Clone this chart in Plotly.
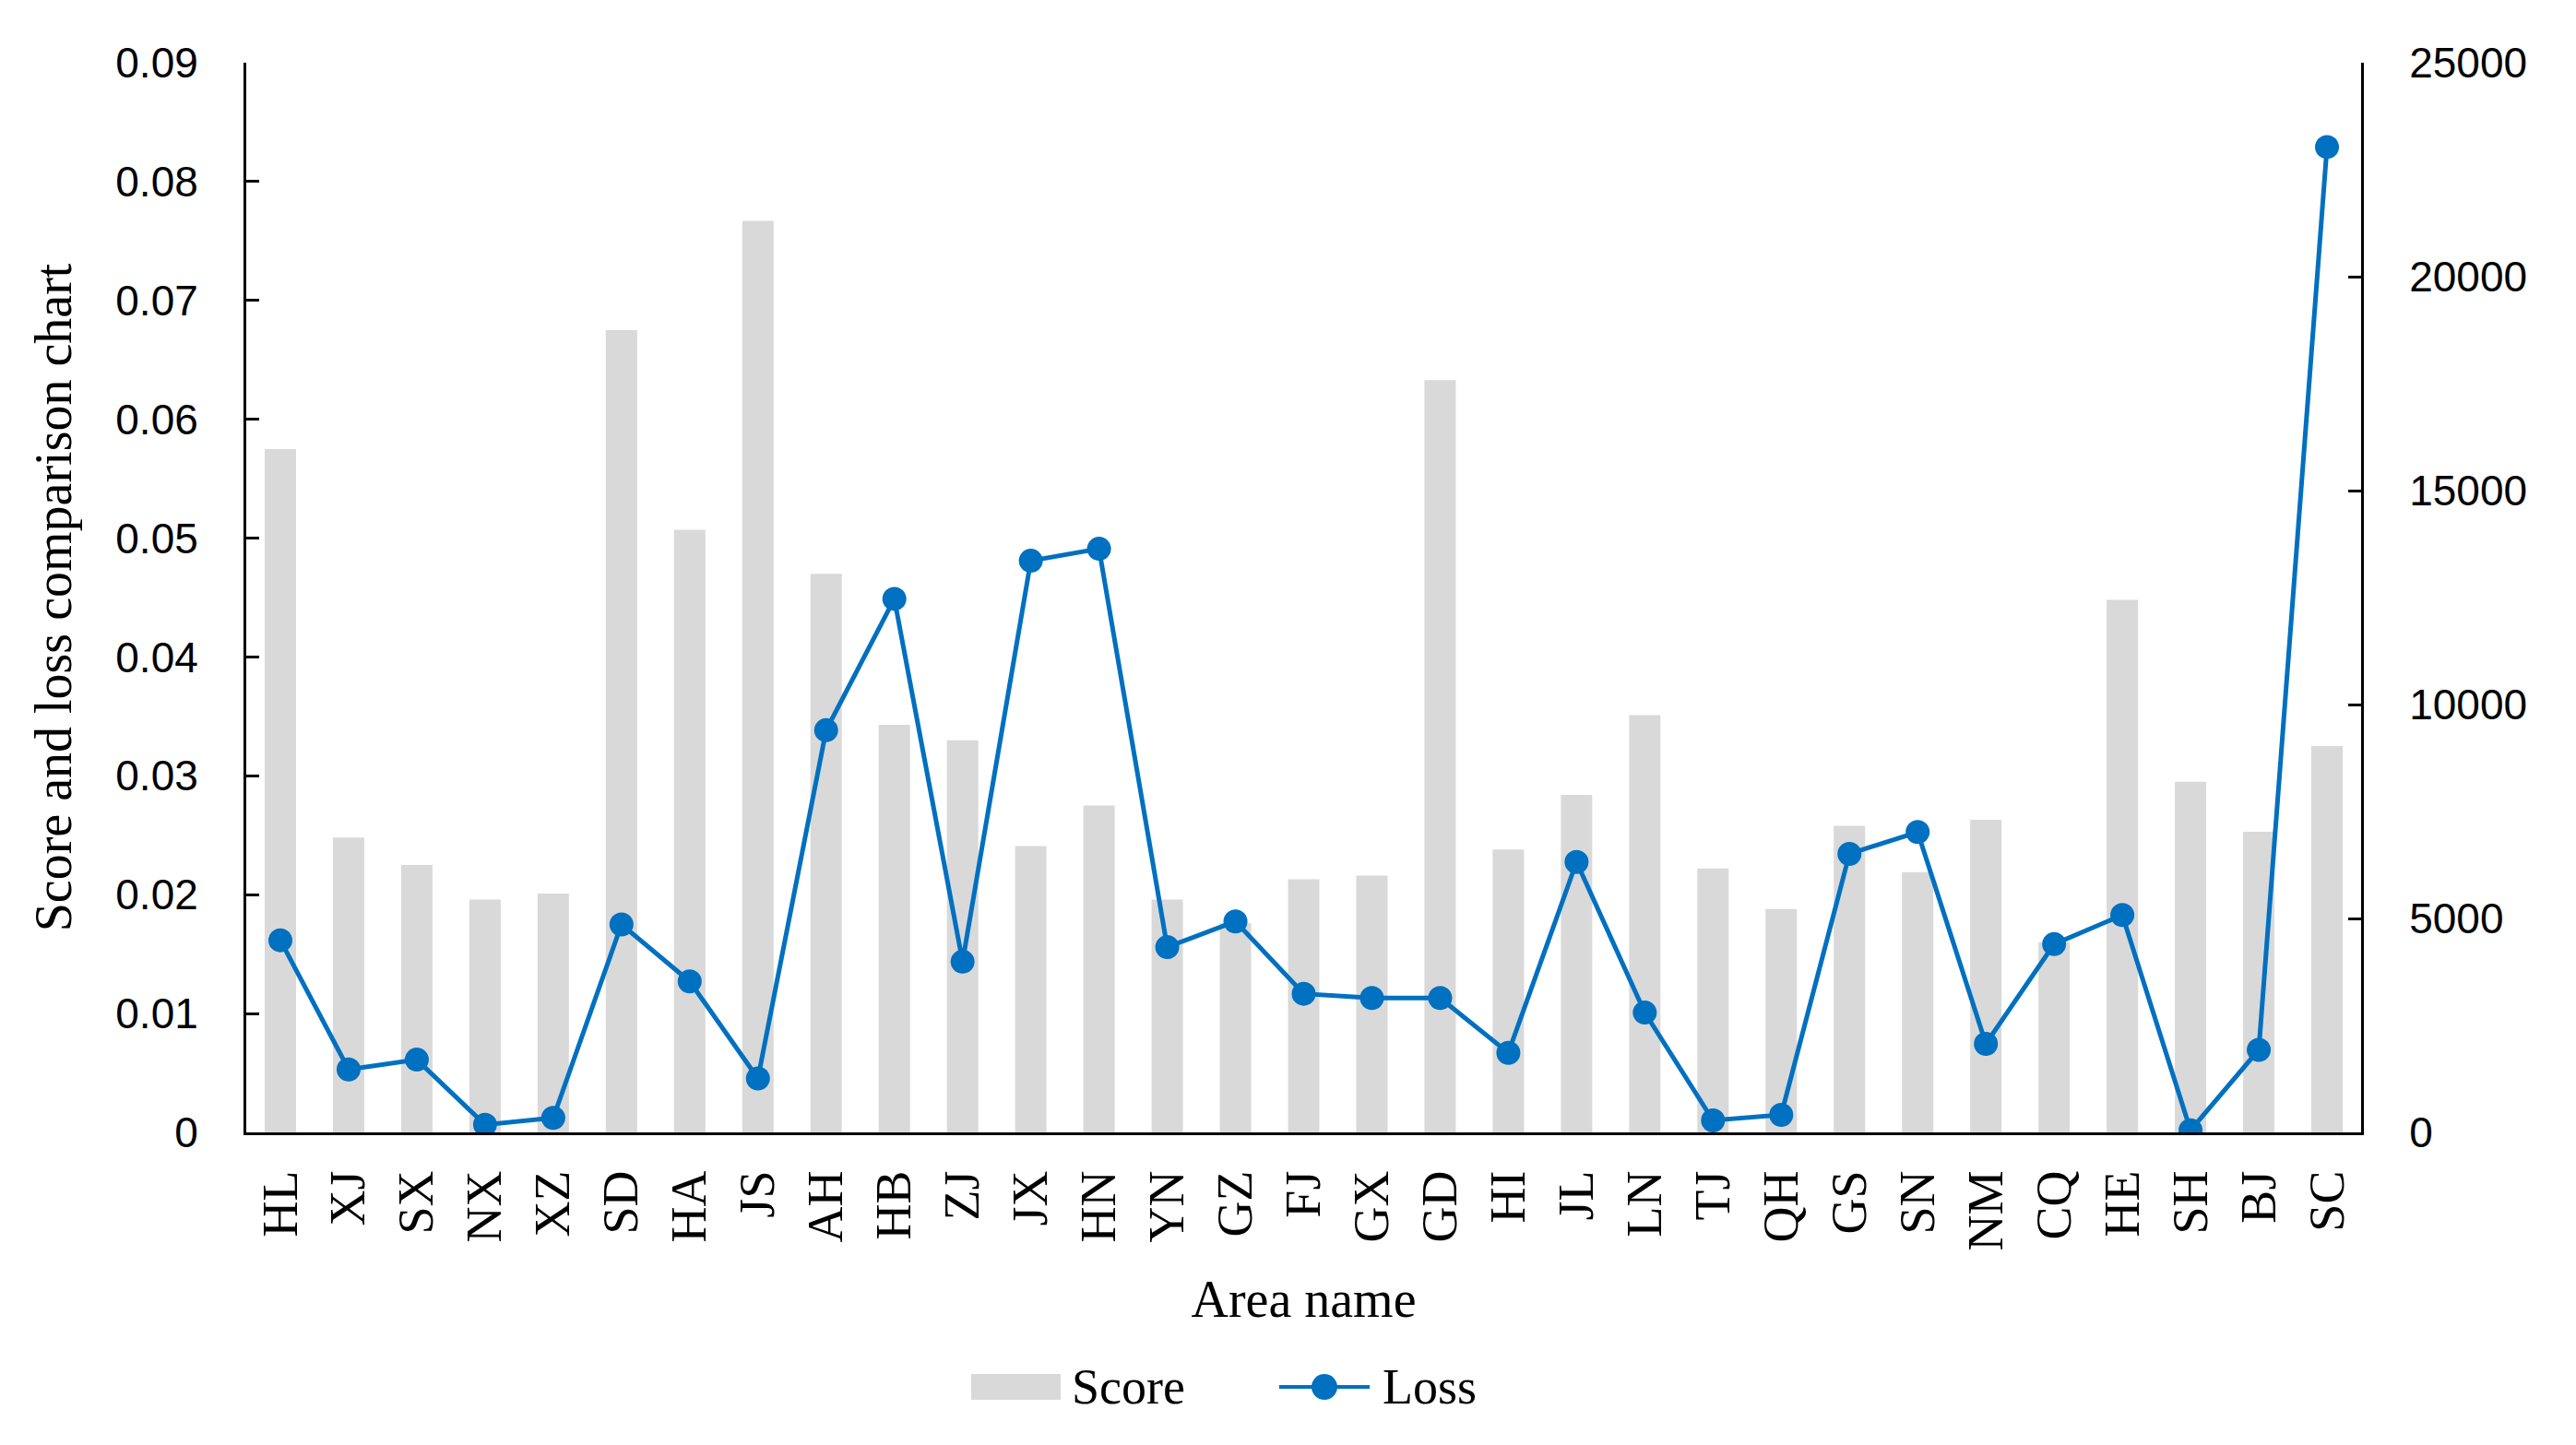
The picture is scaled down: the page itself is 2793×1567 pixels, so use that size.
import plotly.graph_objects as go

areas = ["HL", "XJ", "SX", "NX", "XZ", "SD", "HA", "JS", "AH", "HB", "ZJ", "JX",
         "HN", "YN", "GZ", "FJ", "GX", "GD", "HI", "JL", "LN", "TJ", "QH", "GS",
         "SN", "NM", "CQ", "HE", "SH", "BJ", "SC"]

score = [0.0575, 0.0248, 0.0225, 0.0196, 0.0201, 0.0675, 0.0507, 0.0767, 0.0470,
         0.0343, 0.0330, 0.0241, 0.0275, 0.0196, 0.0176, 0.0213, 0.0216, 0.0633,
         0.0238, 0.0284, 0.0351, 0.0222, 0.0188, 0.0258, 0.0219, 0.0263, 0.0160,
         0.0448, 0.0295, 0.0253, 0.0325]

loss = [4490, 1470, 1700, 180, 340, 4860, 3530, 1260, 9400, 12470, 3990, 13360,
        13640, 4330, 4930, 3240, 3140, 3140, 1860, 6320, 2800, 280, 410, 6510,
        7020, 2070, 4400, 5080, 50, 1930, 23030]

serif = "Liberation Serif"
nums = "Liberation Sans, Arial, sans-serif"
bar_color = "#d9d9d9"
line_color = "#0070c0"

fig = go.Figure()

fig.add_trace(go.Bar(
    x=areas, y=score, name="Score",
    marker=dict(color=bar_color, line=dict(width=0)),
    width=0.46, showlegend=False,
))

fig.add_trace(go.Scatter(
    x=areas, y=loss, name="Loss", yaxis="y2",
    mode="lines+markers",
    line=dict(color=line_color, width=5),
    marker=dict(color=line_color, size=26),
    showlegend=False,
))

# legend drawn by hand so the swatches keep their size
leg_y = -0.238
shapes = [
    dict(type="rect", xref="paper", yref="paper", x0=0.3428, x1=0.3851,
         y0=-0.2259, y1=-0.2500, fillcolor=bar_color, line=dict(width=0)),
    dict(type="line", xref="paper", yref="paper", x0=0.4884, x1=0.5312,
         y0=leg_y, y1=leg_y, line=dict(color=line_color, width=4)),
    dict(type="circle", xref="paper", yref="paper", xsizemode="pixel", ysizemode="pixel",
         xanchor=0.5098, yanchor=leg_y, x0=-14, x1=14, y0=-14, y1=14,
         fillcolor=line_color, line=dict(width=0)),
]
annotations = [
    dict(text="Score", xref="paper", yref="paper", x=0.3894, y=leg_y,
         xanchor="left", yanchor="middle", showarrow=False,
         font=dict(family=serif, size=54, color="black")),
    dict(text="Loss", xref="paper", yref="paper", x=0.5364, y=leg_y,
         xanchor="left", yanchor="middle", showarrow=False,
         font=dict(family=serif, size=54, color="black")),
]

fig.update_layout(
    width=2793, height=1567,
    paper_bgcolor="white", plot_bgcolor="white",
    margin=dict(l=259, r=241, t=60, b=347),
    font=dict(family=serif, size=54, color="black"),
    showlegend=False,
    shapes=shapes,
    annotations=annotations,
    xaxis=dict(
        title=dict(text="Area name", font=dict(family=serif, size=56), standoff=34),
        range=[-0.5, len(areas) - 0.5],
        tickangle=-90, tickfont=dict(family=serif, size=54),
        ticklabelstandoff=17,
        showline=True, linecolor="black", linewidth=3,
        ticks="", showgrid=False,
    ),
    yaxis=dict(
        title=dict(text="Score and loss comparison chart", font=dict(family=serif, size=56),
                   standoff=30),
        range=[0, 0.09], dtick=0.01, tick0=0,
        tickfont=dict(family=nums, size=46),
        showline=True, linecolor="black", linewidth=3,
        ticks="inside", ticklen=14, tickwidth=3, tickcolor="black",
        ticklabelstandoff=40,
        showgrid=False, zeroline=False,
    ),
    yaxis2=dict(
        overlaying="y", side="right",
        range=[0, 25000], dtick=5000, tick0=0, tickformat="d",
        tickfont=dict(family=nums, size=46),
        showline=True, linecolor="black", linewidth=3,
        ticks="inside", ticklen=14, tickwidth=3, tickcolor="black",
        ticklabelstandoff=40,
        showgrid=False, zeroline=False,
    ),
)

fig.write_html("out.html")
